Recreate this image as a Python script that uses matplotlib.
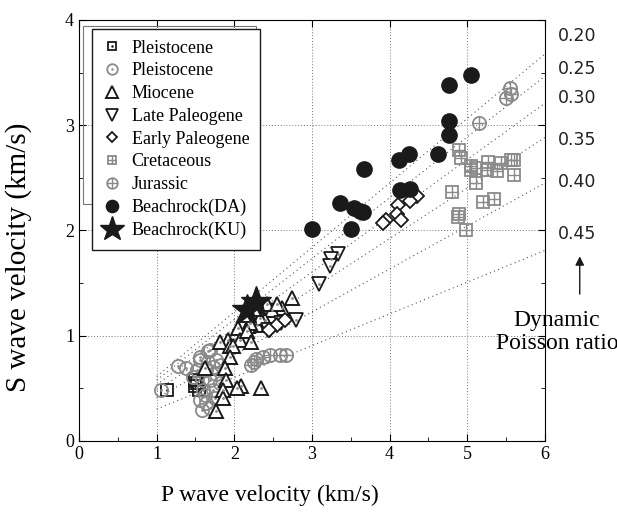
import numpy as np
import matplotlib
matplotlib.use("Agg")
import matplotlib.pyplot as plt
from matplotlib.patches import Rectangle

plt.rcParams['font.family'] = ['Liberation Serif', 'DejaVu Serif']

# ---------------------------------------------------------------------------
# Data (Vp, Vs) in km/s
# ---------------------------------------------------------------------------
pleis_sq_vp = [1.13, 1.49, 1.54, 1.50, 1.52]
pleis_sq_vs = [0.48, 0.58, 0.48, 0.52, 0.55]

pleis_ci_vp = [1.06, 1.28, 1.38, 1.66, 1.56, 1.66, 1.77, 1.64, 1.58, 1.69, 1.60,
               1.73, 1.56, 1.64, 1.58, 1.69, 1.75, 1.81, 1.77, 1.52, 1.47, 1.69,
               1.56, 1.72, 1.62, 1.83]
pleis_ci_vs = [0.48, 0.71, 0.69, 0.85, 0.77, 0.75, 0.77, 0.67, 0.58, 0.58, 0.48,
               0.48, 0.39, 0.36, 0.29, 0.31, 0.41, 0.55, 0.64, 0.67, 0.61, 0.86,
               0.80, 0.70, 0.44, 0.72]

mio_vp = [2.75, 2.61, 2.49, 2.39, 2.29, 2.18, 2.05, 1.92, 2.07, 1.81, 1.94,
          2.33, 2.20, 2.16, 2.22, 1.99, 1.94, 1.88, 1.62, 1.90, 1.86, 1.86,
          1.77, 2.09, 2.03, 2.35, 2.12, 2.25, 2.42, 2.55]
mio_vs = [1.36, 1.26, 1.24, 1.15, 1.10, 1.09, 1.07, 0.96, 0.96, 0.94, 0.90,
          1.17, 1.12, 1.04, 0.94, 0.90, 0.80, 0.69, 0.69, 0.58, 0.48, 0.41,
          0.28, 0.52, 0.50, 0.50, 1.20, 1.25, 1.30, 1.30]

late_pal_vp = [3.34, 3.25, 3.23, 3.09, 2.80, 2.46, 2.43, 2.60]
late_pal_vs = [1.78, 1.73, 1.66, 1.49, 1.15, 1.05, 1.05, 1.12]

early_pal_vp = [4.35, 4.27, 4.11, 4.09, 4.15, 3.96, 3.92, 2.55, 2.65, 2.45]
early_pal_vs = [2.33, 2.28, 2.24, 2.16, 2.10, 2.10, 2.07, 1.10, 1.15, 1.05]

cret_vp = [4.90, 4.92, 5.05, 5.12, 5.27, 5.25, 5.38, 5.43, 5.56, 5.60, 5.60,
           5.11, 4.81, 5.35, 5.20, 4.90, 4.88, 4.99, 5.05]
cret_vs = [2.76, 2.69, 2.61, 2.59, 2.65, 2.57, 2.56, 2.64, 2.67, 2.67, 2.53,
           2.45, 2.36, 2.30, 2.27, 2.16, 2.13, 2.00, 2.57]

jur_vp = [5.55, 5.57, 5.50, 5.15, 2.37, 2.46, 2.59, 2.67, 2.25, 2.28, 2.22]
jur_vs = [3.35, 3.30, 3.26, 3.02, 0.80, 0.82, 0.82, 0.82, 0.75, 0.78, 0.72]

da_vp = [5.05, 4.76, 4.76, 4.76, 4.62, 4.25, 4.12, 3.67, 4.26, 4.13, 3.36,
         3.54, 3.66, 3.62, 3.00, 3.50]
da_vs = [3.48, 3.38, 3.04, 2.91, 2.73, 2.73, 2.67, 2.58, 2.39, 2.38, 2.26,
         2.21, 2.17, 2.18, 2.01, 2.01]

ku_vp = [2.16, 2.28]
ku_vs = [1.24, 1.32]

poisson = [0.20, 0.25, 0.30, 0.35, 0.40, 0.45]
poisson_labels = ['0.20', '0.25', '0.30', '0.35', '0.40', '0.45']
label_y = [3.85, 3.53, 3.26, 2.86, 2.46, 1.97]

black = '#1a1a1a'
gray = '#8a8a8a'

fig = plt.figure(figsize=(6.17, 5.23), dpi=100)
ax = fig.add_axes([0.128, 0.157, 0.755, 0.805])

# Poisson ratio lines
vp_line = np.array([1.0, 6.0])
for nu in poisson:
    r = np.sqrt((1 - 2 * nu) / (2 * (1 - nu)))
    ax.plot(vp_line, r * vp_line, ls=(0, (1, 3)), color='#555555', lw=0.8, zorder=1)

ms = 9.5
h_sq = ax.plot(pleis_sq_vp, pleis_sq_vs, 's', mfc='none', mec=black, mew=1.3, ms=8, ls='none')[0]
h_sq_d = ax.plot(pleis_sq_vp, pleis_sq_vs, '.', color=black, ms=2, ls='none')[0]
h_ci = ax.plot(pleis_ci_vp, pleis_ci_vs, 'o', mfc='none', mec=gray, mew=1.3, ms=ms, ls='none')[0]
h_ci_d = ax.plot(pleis_ci_vp, pleis_ci_vs, '.', color=gray, ms=2, ls='none')[0]
h_jur = ax.plot(jur_vp, jur_vs, 'o', mfc='none', mec=gray, mew=1.3, ms=ms, ls='none')[0]
h_jur_p = ax.plot(jur_vp, jur_vs, '+', color=gray, mew=1.0, ms=ms, ls='none')[0]
h_cret = ax.plot(cret_vp, cret_vs, 's', mfc='none', mec=gray, mew=1.3, ms=8, ls='none')[0]
h_cret_p = ax.plot(cret_vp, cret_vs, '+', color=gray, mew=1.0, ms=8, ls='none')[0]
h_mio = ax.plot(mio_vp, mio_vs, '^', mfc='white', mec=black, mew=1.4, ms=ms + 1, ls='none')[0]
h_mio_d = ax.plot(mio_vp, mio_vs, '.', color=gray, ms=2, ls='none')[0]
h_lp = ax.plot(late_pal_vp, late_pal_vs, 'v', mfc='white', mec=black, mew=1.3, ms=ms + 1, ls='none')[0]
h_lp_d = ax.plot(late_pal_vp, late_pal_vs, '.', color=gray, ms=2, ls='none')[0]
h_ep = ax.plot(early_pal_vp, early_pal_vs, 'D', mfc='white', mec=black, mew=1.3, ms=7, ls='none')[0]
h_da = ax.plot(da_vp, da_vs, 'o', color=black, ms=11, ls='none')[0]
h_ku = ax.plot(ku_vp, ku_vs, '*', color=black, ms=23, ls='none')[0]

ax.set_xlim(0, 6)
ax.set_ylim(0, 4)
ax.set_xticks(range(7))
ax.set_yticks(range(5))
ax.set_xticks(np.arange(0.5, 6, 1.0), minor=True)
ax.set_yticks(np.arange(0.5, 4, 1.0), minor=True)
ax.tick_params(which='both', direction='in', top=True, right=True, labelsize=13)
ax.tick_params(which='major', length=5)
ax.tick_params(which='minor', length=3, top=False)
ax.grid(True, which='major', ls=(0, (1, 2)), color='#777777', lw=0.7)
ax.set_axisbelow(True)

ax.set_xlabel('P wave velocity (km/s)', fontsize=17)
ax.set_ylabel('S wave velocity (km/s)', fontsize=21)
ax.xaxis.set_label_coords(0.41, -0.105)
ax.yaxis.set_label_coords(-0.10, 0.437)

# gray frame behind the legend
ax.add_patch(Rectangle((0.009, 0.562), 0.37, 0.424, transform=ax.transAxes,
                       fill=False, ec='#777777', lw=0.8, zorder=2))

leg = ax.legend([(h_sq, h_sq_d), (h_ci, h_ci_d), h_mio, h_lp, h_ep,
                 (h_cret, h_cret_p), (h_jur, h_jur_p), h_da, h_ku],
                ['Pleistocene', 'Pleistocene', 'Miocene', 'Late Paleogene',
                 'Early Paleogene', 'Cretaceous', 'Jurassic', 'Beachrock(DA)',
                 'Beachrock(KU)'],
                loc='upper left', bbox_to_anchor=(0.028, 0.979), borderaxespad=0,
                fontsize=13, frameon=True, fancybox=False, edgecolor=black,
                framealpha=1, handlelength=1.0, handletextpad=0.6, borderpad=0.6,
                labelspacing=0.32, markerscale=0.8)
leg.get_frame().set_linewidth(1.0)

# right-hand Poisson ratio labels
for lab, y in zip(poisson_labels, label_y):
    ax.text(1.027, y / 4, lab, transform=ax.transAxes, fontsize=12.5,
            family='DejaVu Sans', va='center', ha='left', color='#222222')

ax.annotate('', xy=(1.075, 0.445), xytext=(1.075, 0.342), xycoords='axes fraction',
            arrowprops=dict(arrowstyle='-|>', color=black, lw=1.0, mutation_scale=13),
            annotation_clip=False)
ax.text(1.026, 0.31, 'Dynamic\nPoisson ratio', transform=ax.transAxes,
        fontsize=17, ha='center', va='top', linespacing=1.1, clip_on=False)

fig.savefig('out.png', dpi=100)
